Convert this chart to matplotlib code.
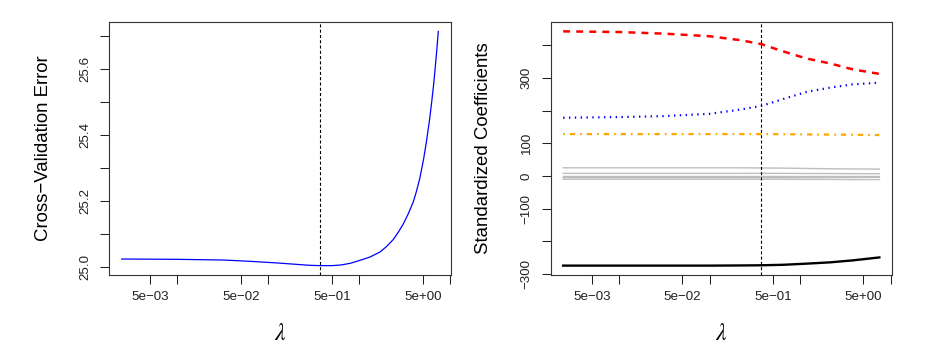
import numpy as np
import matplotlib
matplotlib.use('Agg')
import matplotlib.pyplot as plt

plt.rcParams['font.family'] = ['Liberation Sans', 'DejaVu Sans']
plt.rcParams['mathtext.fontset'] = 'stix'
plt.rcParams['lines.scale_dashes'] = False

# ---- data ----
# left panel: cross-validation error along log10(lambda)
cv_log_lam = [-2.612, -2.0, -1.5, -1.2, -0.9, -0.7, -0.55, -0.43, -0.3, -0.2, -0.1, 0.007,
              0.117, 0.226, 0.300, 0.373, 0.428, 0.483, 0.538, 0.593, 0.629, 0.666,
              0.706, 0.739, 0.772, 0.794, 0.816, 0.831, 0.846, 0.857, 0.868]
cv_error = [25.024, 25.023, 25.021, 25.017, 25.012, 25.008, 25.005, 25.004, 25.004, 25.006, 25.011, 25.020,
            25.030, 25.045, 25.062, 25.083, 25.105, 25.130, 25.161, 25.197, 25.230, 25.270,
            25.326, 25.382, 25.446, 25.496, 25.551, 25.594, 25.640, 25.676, 25.713]

# right panel: standardized coefficients along log10(lambda)
coef_log_lam = [-2.62, -2.0, -1.5, -1.0, -0.66, -0.43, -0.19, 0.07, 0.33, 0.58, 0.875]
coef_limit = [442, 440, 435, 427, 415, 403, 381, 359, 344, 326, 312]
coef_rating = [178, 180, 183, 190, 203, 214, 235, 257, 270, 280, 285]
coef_student = [128, 128, 128, 128, 128, 128, 127.5, 127, 126.5, 126, 125]
coef_income = [-274, -274, -274, -274, -273.5, -273, -271.5, -268, -264, -258, -249]
coef_others = [
    [25, 25, 25, 25, 25, 24.5, 24, 23, 22, 21.5, 21],
    [8, 8, 8, 8, 8, 8, 8, 7.5, 7.5, 7, 7],
    [1, 1, 1, 1, 1, 1, 1, 1, 1, 1, 1],
    [-5, -5, -5, -5, -5, -5, -5, -5, -4.5, -4.5, -4],
    [-10, -10, -10, -10, -10, -10, -10, -10.5, -10.5, -11, -11],
]

best_lam = 10 ** -0.43

x_ticks = [5e-3, 1e-2, 5e-2, 1e-1, 5e-1, 1, 5, 10]
x_labels = ['5e\u221203', '', '5e\u221202', '', '5e\u221201', '', '5e+00', '']


def r_lim(vals, log=False):
    # R style axis range: data range plus 4% each side
    v = np.asarray(vals, dtype=float)
    lo, hi = v.min(), v.max()
    pad = 0.04 * (hi - lo)
    if log:
        return 10 ** (lo - pad), 10 ** (hi + pad)
    return lo - pad, hi + pad


def style_axes(ax, log_lam, yvals, yticks, ylabels, ylabel, ylab_x):
    ax.set_xscale('log')
    ax.set_xlim(*r_lim(log_lam, log=True))
    ax.set_ylim(*r_lim(yvals))
    ax.set_xticks(x_ticks)
    ax.set_xticklabels(x_labels)
    ax.xaxis.set_minor_locator(matplotlib.ticker.NullLocator())
    ax.set_yticks(yticks)
    ax.set_yticklabels(ylabels, rotation=90, va='center')
    ax.tick_params(direction='out', length=6.2, width=0.75, labelsize=9.6,
                   colors='#222222', pad=5.5)
    ax.tick_params(axis='y', pad=6.5)
    for sp in ax.spines.values():
        sp.set_linewidth(0.8)
        sp.set_color('#333333')
    ax.set_ylabel(ylabel, fontsize=13.4)
    ax.yaxis.set_label_coords(ylab_x, 0.5)
    ax.set_xlabel(r'$\lambda$', fontsize=17)
    ax.xaxis.set_label_coords(0.5, -0.19)
    ax.axvline(best_lam, color='black', lw=0.8, dashes=(2.2, 1.6))


fig = plt.figure(figsize=(9.31, 3.53), dpi=100)

# left: CV error
ax1 = fig.add_axes([0.1171, 0.2210, 0.3673, 0.7167])
ax1.plot(10 ** np.array(cv_log_lam), cv_error, color='blue', lw=0.9)
style_axes(ax1, cv_log_lam, cv_error,
           [25.0, 25.1, 25.2, 25.3, 25.4, 25.5, 25.6, 25.7],
           ['25.0', '', '25.2', '', '25.4', '', '25.6', ''],
           'Cross\u2212Validation Error', -0.167)

# right: coefficient paths
ax2 = fig.add_axes([0.5913, 0.2210, 0.3668, 0.7167])
lam2 = 10 ** np.array(coef_log_lam)
for g in coef_others:
    ax2.plot(lam2, g, color='#BEBEBE', lw=1.0)
ax2.plot(lam2, coef_income, color='black', lw=1.7)
ax2.plot(lam2, coef_limit, color='red', lw=1.8, dashes=(5.0, 4.4))
ax2.plot(lam2, coef_rating, color='blue', lw=1.6, dashes=(1.0, 3.2))
ax2.plot(lam2, coef_student, color='orange', lw=1.6, dashes=(1.2, 3.6, 3.8, 3.6))
all_coef = coef_limit + coef_income
style_axes(ax2, coef_log_lam, all_coef,
           [-300, -200, -100, 0, 100, 200, 300, 400],
           ['\u2212300', '', '\u2212100', '0', '100', '', '300', ''],
           'Standardized Coefficients', -0.170)

fig.savefig('out.png', dpi=100)
